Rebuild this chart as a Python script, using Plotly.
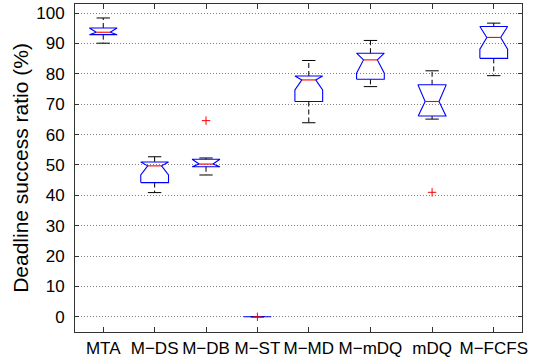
import plotly.graph_objects as go

# ---- data ----
categories = ["MTA", "M\u2212DS", "M\u2212DB", "M\u2212ST", "M\u2212MD", "M\u2212mDQ", "mDQ", "M\u2212FCFS"]
positions = [1, 2, 3, 4, 5, 6.2, 7.4, 8.6]
upper_whisker = [98.4, 52.7, 52.3, 0.0, 84.4, 91.0, 81.0, 96.7]
q3_values     = [95.1, 51.0, 51.9, 0.0, 79.3, 86.8, 76.4, 95.6]
medians       = [93.7, 49.7, 50.3, 0.0, 78.0, 84.6, 70.9, 92.0]
q1_values     = [92.9, 44.2, 49.4, 0.0, 70.9, 78.2, 66.1, 85.1]
lower_whisker = [90.1, 40.9, 46.7, 0.0, 63.9, 75.8, 65.1, 79.4]
notch_span    = [2.5, 3.0, 2.0, 0.0, 3.3, 4.4, 5.3, 3.9]
outlier_pos   = [3, 4, 7.4]
outlier_vals  = [64.6, 0.0, 41.0]
y_ticks = [0, 10, 20, 30, 40, 50, 60, 70, 80, 90, 100]

# ---- style ----
HALF_W = 0.27      # half box width (data units)
NOTCH_W = 0.135    # half width at the notch pinch
CAP_W = 0.13       # half width of whisker caps
FONT = "Liberation Sans, Arial, sans-serif"

box_x, box_y = [], []
wh_x, wh_y = [], []
cap_x, cap_y = [], []
med_x, med_y = [], []
for p, uf, q3, m, q1, lf, ns in zip(positions, upper_whisker, q3_values, medians,
                                     q1_values, lower_whisker, notch_span):
    lo = max(q1, m - ns)
    hi = min(q3, m + ns)
    box_x += [p - HALF_W, p - HALF_W, p - NOTCH_W, p - HALF_W, p - HALF_W,
              p + HALF_W, p + HALF_W, p + NOTCH_W, p + HALF_W, p + HALF_W,
              p - HALF_W, None]
    box_y += [q1, lo, m, hi, q3, q3, hi, m, lo, q1, q1, None]
    wh_x += [p, p, None, p, p, None]
    wh_y += [q3, uf, None, q1, lf, None]
    cap_x += [p - CAP_W, p + CAP_W, None, p - CAP_W, p + CAP_W, None]
    cap_y += [uf, uf, None, lf, lf, None]
    if q3 > q1:
        med_x += [p - NOTCH_W, p + NOTCH_W, None]
        med_y += [m, m, None]

fig = go.Figure()
fig.add_trace(go.Scatter(x=wh_x, y=wh_y, mode="lines",
                         line=dict(color="#000000", width=1, dash="5px,3px"),
                         hoverinfo="skip"))
fig.add_trace(go.Scatter(x=cap_x, y=cap_y, mode="lines",
                         line=dict(color="#000000", width=1), hoverinfo="skip"))
fig.add_trace(go.Scatter(x=box_x, y=box_y, mode="lines",
                         line=dict(color="#0000FF", width=1.1), hoverinfo="skip"))
fig.add_trace(go.Scatter(x=med_x, y=med_y, mode="lines",
                         line=dict(color="#FF0000", width=1.1), hoverinfo="skip"))
fig.add_trace(go.Scatter(x=outlier_pos, y=outlier_vals, mode="markers",
                         marker=dict(symbol="cross-thin", size=6,
                                     line=dict(color="#FF0000", width=1)),
                         hoverinfo="skip"))

fig.update_layout(
    width=534, height=358,
    margin=dict(l=75, r=12, t=4, b=26),
    paper_bgcolor="white", plot_bgcolor="white",
    showlegend=False,
    font=dict(family=FONT, size=17, color="#000000"),
)
fig.update_xaxes(
    range=[0.45, 9.15], tickmode="array", tickvals=positions, ticktext=categories,
    tickangle=0, automargin=False,
    ticks="inside", ticklen=5, tickcolor="#333333",
    showline=True, linecolor="#333333", linewidth=1, mirror="ticks",
    showgrid=False, zeroline=False, ticklabelstandoff=1,
    tickfont=dict(family=FONT, size=17, color="#000000"),
)
fig.update_yaxes(
    range=[-5, 103], tickmode="array", tickvals=y_ticks, automargin=False,
    ticks="inside", ticklen=4, tickcolor="#333333",
    showline=True, linecolor="#333333", linewidth=1, mirror="ticks",
    showgrid=True, gridcolor="#808080", gridwidth=1, griddash="1px,2px",
    zeroline=False, ticklabelstandoff=6,
    tickfont=dict(family=FONT, size=17, color="#000000"),
    title=dict(text="Deadline success ratio (%)", standoff=1,
               font=dict(family=FONT, size=21, color="#000000")),
)

fig.write_html("out.html")
